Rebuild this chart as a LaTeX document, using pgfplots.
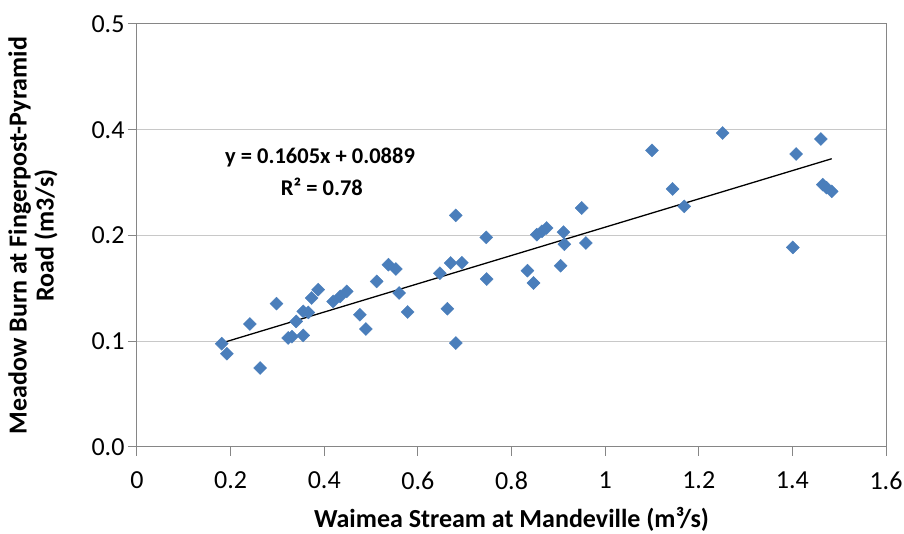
\documentclass[border=0pt]{standalone}
\usepackage{fontspec}
\setmainfont{Carlito}
\usepackage{pgfplots}
\pgfplotsset{compat=1.18}
\definecolor{markblue}{HTML}{4A7EBB}
\definecolor{axisgray}{HTML}{868686}
\definecolor{gridgray}{HTML}{C8C8C8}
\begin{document}
\begin{tikzpicture}
\begin{axis}[
    scale only axis, width=749pt, height=423pt,
    xmin=0, xmax=1.6, ymin=0, ymax=0.48,
    xtick={0,0.2,0.4,0.6,0.8,1.0,1.2,1.4,1.6},
    xticklabels={0,0.2,0.4,0.6,0.8,1,1.2,1.4,1.6},
    ytick={0,0.12,0.24,0.36,0.48},
    yticklabels={0.0,0.1,0.2,0.4,0.5},
    xtick pos=bottom, ytick pos=left,
    tick align=outside, major tick length=9pt,
    tick style={axisgray, line width=1pt},
    axis line style={axisgray, line width=1pt},
    ymajorgrids, major grid style={gridgray, line width=1pt},
    ticklabel style={font=\fontsize{26}{30}\selectfont},
    xticklabel style={yshift=-12pt},
    xlabel={Waimea Stream at Mandeville (m³/s)},
    ylabel={Meadow Burn at Fingerpost-Pyramid\\Road (m3/s)},
    xlabel style={font=\fontsize{26}{30}\selectfont\bfseries, at={(axis description cs:0.5,-0.17)}, anchor=center},
    ylabel style={font=\fontsize{26}{27}\selectfont\bfseries, align=center, at={(axis description cs:-0.139,0.5)}, anchor=center},
]
% measured points
\addplot[only marks, mark=square*, mark size=4.6pt,
    mark options={rotate=45, fill=markblue, draw=markblue}] coordinates {
    (0.181,0.1172) (0.192,0.1059) (0.263,0.0896) (0.241,0.1396) (0.298,0.1626)
    (0.323,0.1237) (0.331,0.1252) (0.355,0.1266) (0.340,0.1425) (0.355,0.1539)
    (0.366,0.1527) (0.373,0.1691) (0.387,0.1785) (0.419,0.1652) (0.434,0.1709)
    (0.448,0.1766) (0.476,0.1501) (0.489,0.1339) (0.512,0.1879) (0.537,0.2069)
    (0.553,0.2020) (0.560,0.1748) (0.578,0.1532) (0.647,0.1972) (0.670,0.2088)
    (0.694,0.2091) (0.663,0.1569) (0.681,0.2628) (0.681,0.1180) (0.746,0.2379)
    (0.747,0.1906) (0.834,0.2001) (0.847,0.1861) (0.854,0.2409) (0.865,0.2447)
    (0.875,0.2485) (0.905,0.2057) (0.911,0.2438) (0.913,0.2301) (0.950,0.2712)
    (0.959,0.2315) (1.100,0.3366) (1.144,0.2928) (1.169,0.2730) (1.251,0.3563)
    (1.401,0.2265) (1.408,0.3325) (1.461,0.3495) (1.465,0.2977) (1.473,0.2943)
    (1.484,0.2901)
};
% trendline
\addplot[black, line width=1.3pt] coordinates {(0.181,0.1180) (1.484,0.3271)};
\node[font=\fontsize{22.5}{26}\selectfont\bfseries] at (axis cs:0.391,0.3283) {y = 0.1605x + 0.0889};
\node[font=\fontsize{22.5}{26}\selectfont\bfseries] at (axis cs:0.395,0.2954) {R² = 0.78};
\end{axis}
\pgfresetboundingbox
\path[use as bounding box] ([shift={(-137pt,-87pt)}]current axis.south west) rectangle ([shift={(18pt,24pt)}]current axis.north east);
\end{tikzpicture}
\end{document}
